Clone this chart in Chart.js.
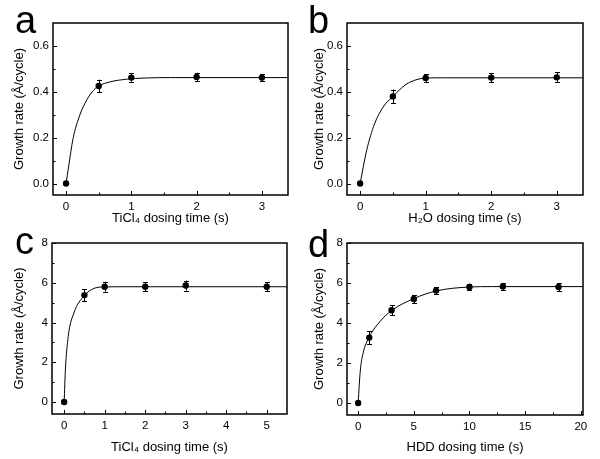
<!DOCTYPE html>
<html>
<head>
<meta charset="utf-8">
<script src="https://cdn.jsdelivr.net/npm/chart.js@4.4.1/dist/chart.umd.min.js"></script>
<style>
  html, body { margin: 0; padding: 0; background: #fff; }
  #marco { position: relative; width: 600px; height: 459px; overflow: hidden; }
  canvas { position: absolute; }
  .letra { position: absolute; font-family: "Liberation Sans", Arial, sans-serif; font-size: 38px; line-height: 1; color: #000; }
</style>
</head>
<body>
<div id="marco">
  <canvas id="graficoA" width="300" height="230" style="left:0px;top:0px"></canvas>
  <canvas id="graficoB" width="300" height="230" style="left:300px;top:0px"></canvas>
  <canvas id="graficoC" width="300" height="230" style="left:0px;top:229px"></canvas>
  <canvas id="graficoD" width="300" height="230" style="left:300px;top:229px"></canvas>
  <div class="letra" style="left:15px;top:1px">a</div>
  <div class="letra" style="left:308px;top:1px">b</div>
  <div class="letra" style="left:15px;top:222px">c</div>
  <div class="letra" style="left:308px;top:225px">d</div>
</div>
<script>
// a: TiCl4 (primer experimento)
var aTiempo = [0, 0.5, 1, 2, 3];
var aTasa = [0, 0.425, 0.462, 0.465, 0.462];
var aError = [0, 0.028, 0.018, 0.018, 0.016];
var aAjusteX = [0, 0.036, 0.11, 0.2, 0.29, 0.4, 0.5, 0.67, 0.93, 1.2, 1.6, 3.4];
var aAjusteY = [0, 0.068, 0.2, 0.29, 0.35, 0.4, 0.425, 0.443, 0.455, 0.46, 0.462, 0.462];

// b: H2O
var bTiempo = [0, 0.5, 1, 2, 3];
var bTasa = [0, 0.38, 0.46, 0.462, 0.463];
var bError = [0, 0.03, 0.017, 0.02, 0.022];
var bAjusteX = [0, 0.1, 0.22, 0.35, 0.5, 0.7, 0.85, 1, 1.3, 3.4];
var bAjusteY = [0, 0.145, 0.26, 0.333, 0.38, 0.432, 0.452, 0.46, 0.461, 0.461];

// c: TiCl4 (segundo experimento)
var cTiempo = [0, 0.5, 1, 2, 3, 5];
var cTasa = [0, 5.38, 5.8, 5.8, 5.86, 5.8];
var cError = [0, 0.3, 0.25, 0.22, 0.25, 0.22];
var cAjusteX = [0, 0.03, 0.1, 0.24, 0.5, 0.74, 1, 1.5, 5.5];
var cAjusteY = [0, 1.6, 3.3, 4.48, 5.36, 5.72, 5.79, 5.8, 5.8];

// d: HDD
var dTiempo = [0, 1, 3, 5, 7, 10, 13, 18];
var dTasa = [0, 3.27, 4.64, 5.2, 5.62, 5.8, 5.83, 5.8];
var dError = [0, 0.32, 0.25, 0.2, 0.18, 0.17, 0.17, 0.2];
var dAjusteX = [0, 0.2, 0.45, 1, 2, 3, 5, 7, 10, 12, 20.2];
var dAjusteY = [0, 1.65, 2.5, 3.3, 4.1, 4.62, 5.22, 5.6, 5.8, 5.82, 5.82];

// marcas de los ejes
var ejeXab = [0, 1, 2, 3];
var ejeXabMenor = [0.5, 1.5, 2.5];
var ejeYab = [0, 0.2, 0.4, 0.6];
var ejeYabMenor = [0.1, 0.3, 0.5];
var ejeXc = [0, 1, 2, 3, 4, 5];
var ejeXcMenor = [0.5, 1.5, 2.5, 3.5, 4.5];
var ejeXd = [0, 5, 10, 15, 20];
var ejeXdMenor = [2.5, 7.5, 12.5, 17.5];
var ejeYcd = [0, 2, 4, 6, 8];
var ejeYcdMenor = [1, 3, 5, 7];

var tituloY = 'Growth rate (Å/cycle)';

Chart.defaults.font.family = '"Liberation Sans", Arial, sans-serif';
Chart.defaults.color = '#000';

// dibuja barras de error, el marco y las marcas hacia adentro
var marcoYBarras = {
    id: 'marcoYBarras',
    afterDatasetsDraw: function (chart) {
        var o = chart.options.plugins.marcoYBarras;
        var ctx = chart.ctx;
        var sx = chart.scales.x, sy = chart.scales.y;
        ctx.save();
        ctx.strokeStyle = '#000';
        ctx.lineWidth = 1;
        o.x.forEach(function (xv, i) {
            if (!o.err[i]) return;
            var px = Math.round(sx.getPixelForValue(xv)) + 0.5;
            var p1 = sy.getPixelForValue(o.y[i] - o.err[i]);
            var p2 = sy.getPixelForValue(o.y[i] + o.err[i]);
            ctx.beginPath();
            ctx.moveTo(px, p1); ctx.lineTo(px, p2);
            ctx.moveTo(px - 2.5, Math.round(p1) + 0.5); ctx.lineTo(px + 2.5, Math.round(p1) + 0.5);
            ctx.moveTo(px - 2.5, Math.round(p2) + 0.5); ctx.lineTo(px + 2.5, Math.round(p2) + 0.5);
            ctx.stroke();
        });
        ctx.restore();
    },
    afterDraw: function (chart) {
        var o = chart.options.plugins.marcoYBarras;
        var ctx = chart.ctx;
        var a = chart.chartArea;
        var sx = chart.scales.x, sy = chart.scales.y;
        ctx.save();
        ctx.strokeStyle = '#000';
        ctx.lineWidth = 1.5;
        ctx.strokeRect(a.left, a.top, a.right - a.left, a.bottom - a.top);
        ctx.lineWidth = 1;
        ctx.beginPath();
        function marcaX(v, largo) {
            var px = Math.round(sx.getPixelForValue(v)) + 0.5;
            ctx.moveTo(px, a.bottom); ctx.lineTo(px, a.bottom - largo);
        }
        function marcaY(v, largo) {
            var py = Math.round(sy.getPixelForValue(v)) + 0.5;
            ctx.moveTo(a.left, py); ctx.lineTo(a.left + largo, py);
        }
        o.xMayor.forEach(function (v) { marcaX(v, 4); });
        o.xMenor.forEach(function (v) { marcaX(v, 2.5); });
        o.yMayor.forEach(function (v) { marcaY(v, 4); });
        o.yMenor.forEach(function (v) { marcaY(v, 2.5); });
        ctx.stroke();
        ctx.restore();
    }
};

function aPuntos(xs, ys) {
    return xs.map(function (v, i) { return { x: v, y: ys[i] }; });
}

function crearGrafico(id, p) {
    var ctx = document.getElementById(id).getContext('2d');
    return new Chart(ctx, {
        type: 'scatter',
        data: {
            datasets: [{
                data: aPuntos(p.x, p.y),
                pointRadius: 3.2,
                pointBorderWidth: 0,
                pointBackgroundColor: '#000',
                showLine: false
            }, {
                data: aPuntos(p.ajX, p.ajY),
                showLine: true,
                pointRadius: 0,
                borderColor: '#000',
                borderWidth: 1,
                cubicInterpolationMode: 'monotone'
            }]
        },
        options: {
            responsive: false,
            animation: false,
            events: [],
            layout: { padding: { left: 0, top: p.area[2], right: 300 - p.area[1], bottom: 0 } },
            plugins: {
                legend: { display: false },
                tooltip: { enabled: false },
                marcoYBarras: {
                    x: p.x, y: p.y, err: p.err,
                    xMayor: p.xMayor, xMenor: p.xMenor,
                    yMayor: p.yMayor, yMenor: p.yMenor
                }
            },
            scales: {
                x: {
                    type: 'linear',
                    min: p.xMin, max: p.xMax,
                    grid: { display: false, drawTicks: false },
                    border: { display: false },
                    ticks: { padding: 5, maxRotation: 0, font: { size: 11.5 } },
                    afterBuildTicks: function (s) { s.ticks = p.xMayor.map(function (v) { return { value: v }; }); },
                    afterFit: function (s) { s.height = 230 - p.area[3]; },
                    title: { display: true, text: p.tituloX, font: { size: 13 }, padding: { top: 0, bottom: 4 } }
                },
                y: {
                    type: 'linear',
                    min: p.yMin, max: p.yMax,
                    grid: { display: false, drawTicks: false },
                    border: { display: false },
                    ticks: {
                        padding: 4, font: { size: 11.5 },
                        callback: function (v) { return Number(v).toFixed(p.dec); }
                    },
                    afterBuildTicks: function (s) { s.ticks = p.yMayor.map(function (v) { return { value: v }; }); },
                    afterFit: function (s) { s.width = p.area[0]; },
                    title: { display: true, text: tituloY, font: { size: 13 }, padding: { top: 12, bottom: 0 } }
                }
            }
        },
        plugins: [marcoYBarras]
    });
}

// area = [izquierda, derecha, arriba, abajo] en pixeles del lienzo
crearGrafico('graficoA', {
    x: aTiempo, y: aTasa, err: aError, ajX: aAjusteX, ajY: aAjusteY,
    xMin: -0.2, xMax: 3.4, yMin: -0.05, yMax: 0.7, dec: 1,
    xMayor: ejeXab, xMenor: ejeXabMenor, yMayor: ejeYab, yMenor: ejeYabMenor,
    tituloX: 'TiCl₄ dosing time (s)', area: [53, 288, 23, 195]
});
crearGrafico('graficoB', {
    x: bTiempo, y: bTasa, err: bError, ajX: bAjusteX, ajY: bAjusteY,
    xMin: -0.2, xMax: 3.4, yMin: -0.05, yMax: 0.7, dec: 1,
    xMayor: ejeXab, xMenor: ejeXabMenor, yMayor: ejeYab, yMenor: ejeYabMenor,
    tituloX: 'H₂O dosing time (s)', area: [47, 283, 23, 195]
});
crearGrafico('graficoC', {
    x: cTiempo, y: cTasa, err: cError, ajX: cAjusteX, ajY: cAjusteY,
    xMin: -0.3, xMax: 5.5, yMin: -0.6, yMax: 8, dec: 0,
    xMayor: ejeXc, xMenor: ejeXcMenor, yMayor: ejeYcd, yMenor: ejeYcdMenor,
    tituloX: 'TiCl₄ dosing time (s)', area: [52, 287, 14, 185]
});
crearGrafico('graficoD', {
    x: dTiempo, y: dTasa, err: dError, ajX: dAjusteX, ajY: dAjusteY,
    xMin: -1, xMax: 20.2, yMin: -0.6, yMax: 8, dec: 0,
    xMayor: ejeXd, xMenor: ejeXdMenor, yMayor: ejeYcd, yMenor: ejeYcdMenor,
    tituloX: 'HDD dosing time (s)', area: [47, 283, 14, 186]
});
</script>
</body>
</html>
